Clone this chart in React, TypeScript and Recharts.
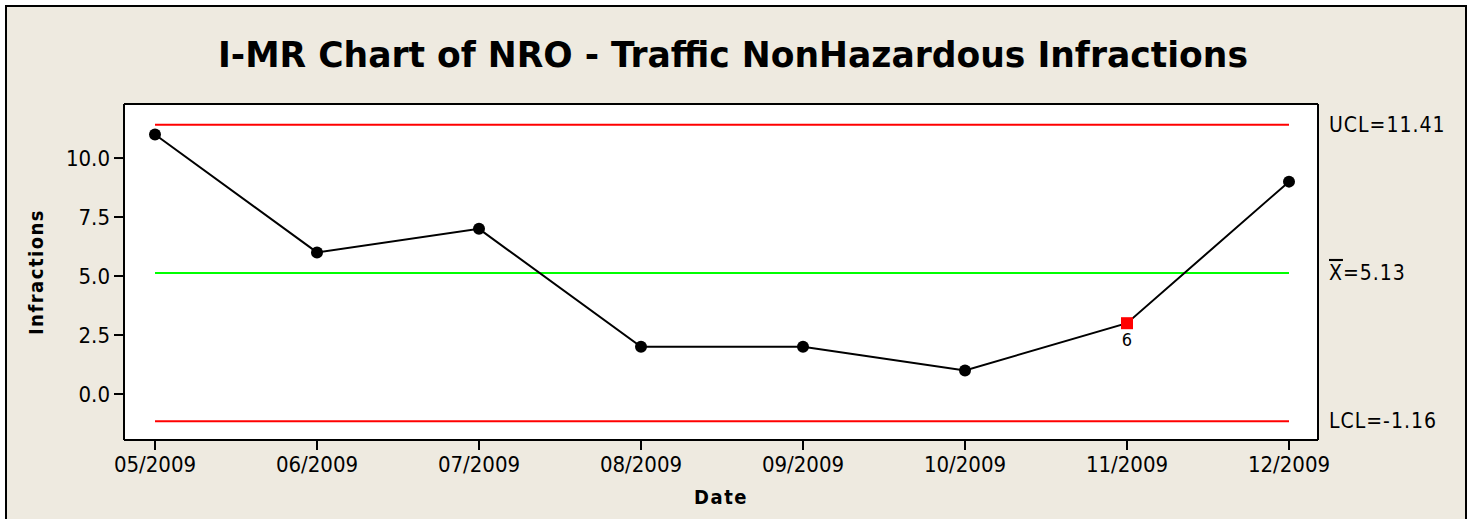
import React from "react"
import {
  LineChart,
  Line,
  XAxis,
  YAxis,
  CartesianGrid,
  ReferenceLine,
  Label,
} from "recharts"

const dates = ["05/2009", "06/2009", "07/2009", "08/2009", "09/2009", "10/2009", "11/2009", "12/2009"]
const infractions = [11, 6, 7, 2, 2, 1, 3, 9]
// test failure labels, one per point (null = no flag)
const flags: (string | null)[] = [null, null, null, null, null, null, "6", null]
const yTicks = [0, 2.5, 5, 7.5, 10]

const UCL = 11.41
const MEAN = 5.13
const LCL = -1.16
const Y_MIN = -1.95
const Y_MAX = 12.29

const FONT = "'DejaVu Sans Condensed', 'DejaVu Sans', sans-serif"
const BG = "#EEEAE0"
const AXIS_LINE = { stroke: "#000", strokeWidth: 2 }
const X_PAD = { left: 31, right: 29 }

const chartData = dates.map((d, i) => ({
  date: d,
  value: infractions[i],
  ucl: UCL,
  mean: MEAN,
  lcl: LCL,
  flag: flags[i],
}))

const PointDot = (props: any) => {
  const { cx, cy, payload, index } = props
  if (cx == null || cy == null) return null
  if (payload.flag) {
    return (
      <g key={`dot-${index}`}>
        <rect x={cx - 6} y={cy - 6} width={12} height={12} fill="#FF0000" />
        <text x={cx} y={cy + 23} textAnchor="middle" fontSize={18} fontFamily={FONT} fill="#000">
          {payload.flag}
        </text>
      </g>
    )
  }
  return <circle key={`dot-${index}`} cx={cx} cy={cy} r={6} fill="#000" />
}

const limitLabel = (text: React.ReactNode) => (props: any) => {
  const vb = props.viewBox
  return (
    <text x={vb.x + vb.width + 11} y={vb.y + 7} fontSize={21} fontFamily={FONT} fill="#000" letterSpacing={1}>
      {text}
    </text>
  )
}

const App = () => {
  return (
    <div style={{ position: "relative", width: 1472, height: 519, background: "#fff", overflow: "hidden" }}>
      <style>{`body{margin:0}`}</style>
      <div
        style={{
          position: "absolute",
          left: 5,
          top: 5,
          width: 1458,
          height: 530,
          background: BG,
          border: "2px solid #000",
        }}
      />
      <div style={{ position: "absolute", left: 0, top: 0 }}>
        <svg width={1472} height={100} style={{ position: "absolute", left: 0, top: 0 }}>
          <text
            x={733}
            y={67}
            textAnchor="middle"
            fontSize={36}
            fontWeight="bold"
            fontFamily={FONT}
            fill="#000"
            textLength={1030}
            lengthAdjust="spacingAndGlyphs"
          >
            I-MR Chart of NRO - Traffic NonHazardous Infractions
          </text>
        </svg>
        <LineChart
          width={1472}
          height={519}
          data={chartData}
          margin={{ top: 103, right: 153, bottom: 29, left: 64 }}
        >
          <CartesianGrid horizontal={false} vertical={false} fill="#fff" />
          <XAxis
            dataKey="date"
            padding={X_PAD}
            height={50}
            tickSize={10}
            tickMargin={6}
            axisLine={AXIS_LINE}
            tickLine={AXIS_LINE}
            tick={{ fill: "#000", fontSize: 22, fontFamily: FONT }}
            interval={0}
          >
            <Label
              value="Date"
              position="insideBottom"
              offset={-14}
              style={{ fontSize: 20, fontWeight: "bold", fontFamily: FONT, fill: "#000", letterSpacing: 1.5 }}
            />
          </XAxis>
          {/* top and right axes only close the plot frame */}
          <XAxis
            xAxisId="top"
            orientation="top"
            dataKey="date"
            padding={X_PAD}
            height={1}
            tick={false}
            tickLine={false}
            axisLine={AXIS_LINE}
          />
          <YAxis
            type="number"
            domain={[Y_MIN, Y_MAX]}
            ticks={yTicks}
            width={60}
            tickSize={10}
            tickMargin={4}
            axisLine={AXIS_LINE}
            tickLine={AXIS_LINE}
            tick={{ fill: "#000", fontSize: 22, fontFamily: FONT }}
            tickFormatter={(v: number) => v.toFixed(1)}
          >
            <Label
              value="Infractions"
              angle={-90}
              position="insideLeft"
              offset={-28}
              style={{
                fontSize: 20,
                fontWeight: "bold",
                fontFamily: FONT,
                fill: "#000",
                letterSpacing: 1.5,
                textAnchor: "middle",
              }}
            />
          </YAxis>
          <YAxis
            yAxisId="right"
            orientation="right"
            type="number"
            domain={[Y_MIN, Y_MAX]}
            width={1}
            tick={false}
            tickLine={false}
            axisLine={AXIS_LINE}
          />
          <Line
            xAxisId="top"
            yAxisId="right"
            dataKey="ucl"
            stroke="#FF0000"
            strokeWidth={2}
            dot={false}
            isAnimationActive={false}
          />
          <Line dataKey="lcl" stroke="#FF0000" strokeWidth={2} dot={false} isAnimationActive={false} />
          <Line dataKey="mean" stroke="#00FF00" strokeWidth={2} dot={false} isAnimationActive={false} />
          <ReferenceLine y={UCL} stroke="none" label={limitLabel("UCL=11.41")} />
          <ReferenceLine
            y={MEAN}
            stroke="none"
            label={limitLabel(
              <>
                <tspan textDecoration="overline">X</tspan>=5.13
              </>
            )}
          />
          <ReferenceLine y={LCL} stroke="none" label={limitLabel("LCL=-1.16")} />
          <Line
            dataKey="value"
            stroke="#000"
            strokeWidth={2}
            dot={<PointDot />}
            activeDot={false}
            isAnimationActive={false}
          />
        </LineChart>
      </div>
    </div>
  )
}

export default App
